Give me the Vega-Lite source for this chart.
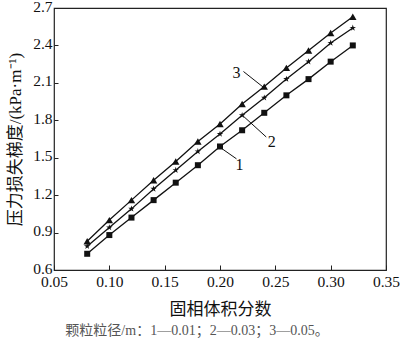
{
  "$schema": "https://vega.github.io/schema/vega-lite/v6.json",
  "width": 332,
  "height": 262,
  "autosize": {"type": "none"},
  "padding": {"left": 54, "top": 8, "right": 14, "bottom": 72},
  "background": "white",
  "config": {
    "view": {"stroke": "#222", "strokeWidth": 1.2},
    "axis": {"grid": false, "domain": false, "ticks": true, "tickColor": "#222", "tickWidth": 1, "labelColor": "#111", "titleColor": "#111", "labelFont": "Liberation Serif", "labelFontSize": 15.5, "titleFont": "Liberation Serif, Noto Sans CJK SC", "titleFontSize": 17, "titleFontWeight": "normal", "labelFlush": false, "labelOverlap": false}
  },
  "title": {"text": "颗粒粒径/m：1—0.01；2—0.03；3—0.05。", "orient": "bottom", "anchor": "middle", "dx": -23, "offset": 6, "font": "Liberation Serif, Noto Sans CJK SC", "fontSize": 14, "fontWeight": "normal", "color": "#555"},
  "datasets": {
    "curves": [
      {"phi": 0.08, "s": "1", "dp": 0.73}, {"phi": 0.10, "s": "1", "dp": 0.88}, {"phi": 0.12, "s": "1", "dp": 1.02}, {"phi": 0.14, "s": "1", "dp": 1.16}, {"phi": 0.16, "s": "1", "dp": 1.30}, {"phi": 0.18, "s": "1", "dp": 1.44}, {"phi": 0.20, "s": "1", "dp": 1.59}, {"phi": 0.22, "s": "1", "dp": 1.72}, {"phi": 0.24, "s": "1", "dp": 1.86}, {"phi": 0.26, "s": "1", "dp": 2.00}, {"phi": 0.28, "s": "1", "dp": 2.13}, {"phi": 0.30, "s": "1", "dp": 2.27}, {"phi": 0.32, "s": "1", "dp": 2.40},
      {"phi": 0.08, "s": "2", "dp": 0.79}, {"phi": 0.10, "s": "2", "dp": 0.94}, {"phi": 0.12, "s": "2", "dp": 1.09}, {"phi": 0.14, "s": "2", "dp": 1.25}, {"phi": 0.16, "s": "2", "dp": 1.40}, {"phi": 0.18, "s": "2", "dp": 1.55}, {"phi": 0.20, "s": "2", "dp": 1.69}, {"phi": 0.22, "s": "2", "dp": 1.84}, {"phi": 0.24, "s": "2", "dp": 1.98}, {"phi": 0.26, "s": "2", "dp": 2.13}, {"phi": 0.28, "s": "2", "dp": 2.27}, {"phi": 0.30, "s": "2", "dp": 2.42}, {"phi": 0.32, "s": "2", "dp": 2.54},
      {"phi": 0.08, "s": "3", "dp": 0.83}, {"phi": 0.10, "s": "3", "dp": 1.00}, {"phi": 0.12, "s": "3", "dp": 1.16}, {"phi": 0.14, "s": "3", "dp": 1.32}, {"phi": 0.16, "s": "3", "dp": 1.47}, {"phi": 0.18, "s": "3", "dp": 1.63}, {"phi": 0.20, "s": "3", "dp": 1.77}, {"phi": 0.22, "s": "3", "dp": 1.93}, {"phi": 0.24, "s": "3", "dp": 2.07}, {"phi": 0.26, "s": "3", "dp": 2.22}, {"phi": 0.28, "s": "3", "dp": 2.36}, {"phi": 0.30, "s": "3", "dp": 2.50}, {"phi": 0.32, "s": "3", "dp": 2.63}
    ],
    "leaders": [
      {"s": "1", "phi": 0.1996, "dp": 1.586, "phi2": 0.2149, "dp2": 1.491},
      {"s": "2", "phi": 0.2201, "dp": 1.841, "phi2": 0.2418, "dp2": 1.666},
      {"s": "3", "phi": 0.2212, "dp": 2.191, "phi2": 0.2393, "dp2": 2.064}
    ],
    "labels": [
      {"s": "1", "phi": 0.2176, "dp": 1.443},
      {"s": "2", "phi": 0.2467, "dp": 1.626},
      {"s": "3", "phi": 0.2149, "dp": 2.183}
    ]
  },
  "encoding": {
    "x": {"field": "phi", "type": "quantitative", "scale": {"domain": [0.05, 0.35], "nice": false, "zero": false},
      "axis": {"values": [0.05, 0.1, 0.15, 0.2, 0.25, 0.3, 0.35], "format": ".2f", "title": "固相体积分数", "tickSize": -5, "labelPadding": 9, "titlePadding": 12, "labelOverlap": false, "labelFlush": false}},
    "y": {"field": "dp", "type": "quantitative", "scale": {"domain": [0.6, 2.7], "nice": false, "zero": false},
      "axis": {"values": [0.6, 0.9, 1.2, 1.5, 1.8, 2.1, 2.4, 2.7], "format": ".1f", "title": "压力损失梯度/(kPa·m⁻¹)", "tickSize": -4, "labelPadding": 6, "labelOffset": -2, "titlePadding": 8, "labelOverlap": false, "labelFlush": false}}
  },
  "layer": [
    {
      "data": {"name": "curves"},
      "mark": {"type": "line", "color": "#111", "strokeWidth": 1.3},
      "encoding": {"detail": {"field": "s"}}
    },
    {
      "data": {"name": "curves"},
      "mark": {"type": "point", "filled": true, "color": "#111", "opacity": 1},
      "encoding": {
        "shape": {"field": "s", "type": "nominal", "legend": null, "scale": {"domain": ["1", "2", "3"], "range": ["square", "M0,-1L0.2245,-0.309L0.951,-0.309L0.363,0.118L0.588,0.809L0,0.382L-0.588,0.809L-0.363,0.118L-0.951,-0.309L-0.2245,-0.309Z", "triangle-up"]}},
        "size": {"field": "s", "type": "nominal", "legend": null, "scale": {"domain": ["1", "2", "3"], "range": [36, 55, 40]}}
      }
    },
    {
      "data": {"name": "leaders"},
      "mark": {"type": "rule", "color": "#111", "strokeWidth": 1},
      "encoding": {
        "x2": {"field": "phi2"},
        "y2": {"field": "dp2"}
      }
    },
    {
      "data": {"name": "labels"},
      "mark": {"type": "text", "font": "Liberation Serif", "fontSize": 16, "color": "#111", "align": "center", "baseline": "middle"},
      "encoding": {
        "text": {"field": "s"}
      }
    }
  ]
}
